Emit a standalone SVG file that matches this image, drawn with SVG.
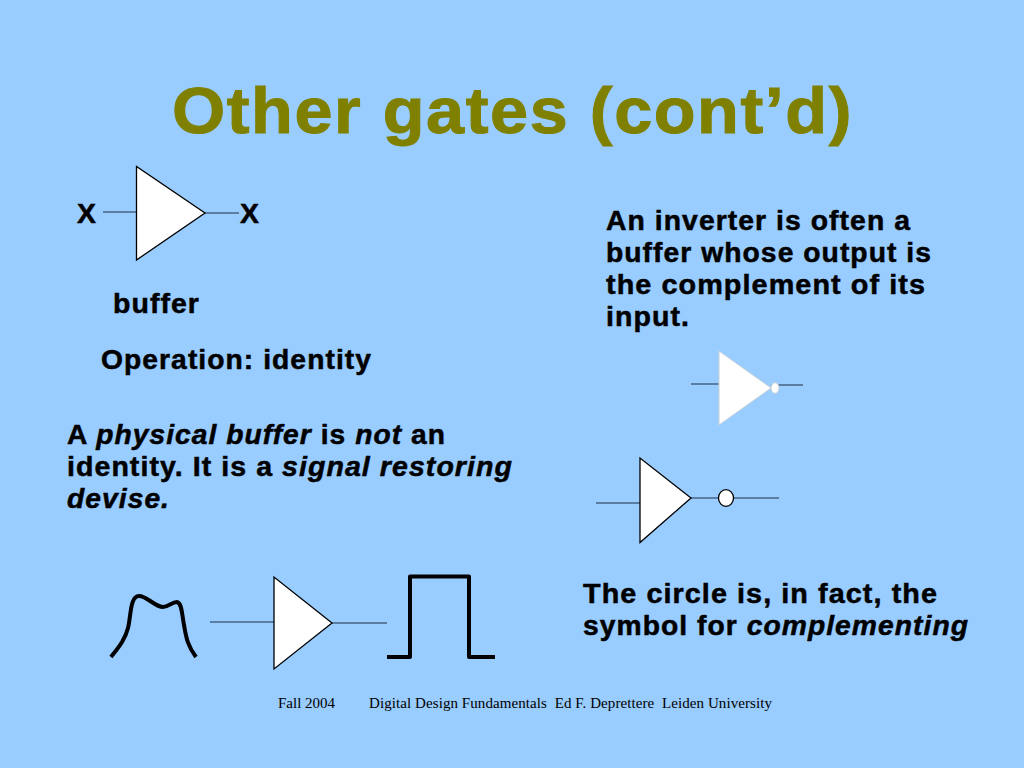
<svg xmlns="http://www.w3.org/2000/svg" width="1024" height="768" viewBox="0 0 1024 768">
<style>
text{font-family:"Liberation Sans",Arial,sans-serif;fill:#000}
.b{font-weight:bold;font-size:27px;stroke:#000;stroke-width:.5;letter-spacing:1px}
.t{font-weight:bold;font-size:65px;fill:#808000;stroke:#808000;stroke-width:1;letter-spacing:1.5px}
.f{font-family:"Liberation Serif","Times New Roman",serif;font-size:15px;white-space:pre}
.g{fill:#fff;stroke:#000;stroke-width:1.3}
.w{fill:none;stroke:#1e2f45;stroke-width:1.2}
.s{fill:none;stroke:#000;stroke-width:4;stroke-linejoin:round}
</style>
<rect width="1024" height="768" fill="#99ccff"/>
<text class="t" x="172" y="133" textLength="681" lengthAdjust="spacingAndGlyphs">Other gates (cont’d)</text>
<g id="connectors">
<path class="w" d="M103 212H137M205 213H239M691 384H719M771 385H803M596 503H640M691 498H719M733 498H779M210 622H274M332 623H387"/>
</g>
<g id="buffer"><path class="g" d="M136.500 166.500V260L205 213Z"/></g>
<g id="inverter1"><path d="M719 351V425L771 388Z" fill="#fff" stroke="#c8d0d8"/><ellipse cx="775" cy="388" rx="4" ry="5.300" fill="#fff" stroke="#c8d0d8"/></g>
<g id="inverter2"><path class="g" d="M640 458V542.500L691 498Z"/><ellipse cx="726" cy="498" rx="7.500" ry="8.300" class="g"/></g>
<g id="buffer2"><path class="g" stroke-width="1" d="M274 577V669L332 623Z"/></g>
<g id="input-wave"><path class="s" d="M111 657C118 648 125 640 128 628C131 616 130 596 139 596C147 596 155 607 163 607C168 607 172 602 177 602C182 603 182 615 184 625C186 636 187 645 196 657"/></g>
<g id="output-pulse"><path class="s" d="M387 657H410V576.500H469V657H495"/></g>
<g id="labels">
<text class="b" x="77" y="223" textLength="20" lengthAdjust="spacingAndGlyphs">X</text>
<text class="b" x="240" y="223" textLength="20" lengthAdjust="spacingAndGlyphs">X</text>
<text class="b" x="113" y="313" textLength="87" lengthAdjust="spacingAndGlyphs">buffer</text>
<text class="b" x="101" y="369" textLength="271" lengthAdjust="spacingAndGlyphs">Operation: identity</text>
<text class="b" x="606" y="230" textLength="305" lengthAdjust="spacingAndGlyphs">An inverter is often a</text>
<text class="b" x="606" y="262" textLength="326" lengthAdjust="spacingAndGlyphs">buffer whose output is</text>
<text class="b" x="606" y="294" textLength="320" lengthAdjust="spacingAndGlyphs">the complement of its</text>
<text class="b" x="606" y="326" textLength="84" lengthAdjust="spacingAndGlyphs">input.</text>
<text class="b" x="67" y="444" textLength="379" lengthAdjust="spacingAndGlyphs">A <tspan font-style="italic">physical buffer </tspan>is <tspan font-style="italic">not </tspan>an</text>
<text class="b" x="67" y="476" textLength="446" lengthAdjust="spacingAndGlyphs">identity. It is a <tspan font-style="italic">signal restoring</tspan></text>
<text class="b" x="67" y="508" font-style="italic" textLength="103" lengthAdjust="spacingAndGlyphs">devise.</text>
<text class="b" x="583" y="603" textLength="355" lengthAdjust="spacingAndGlyphs">The circle is, in fact, the</text>
<text class="b" x="583" y="635" textLength="386" lengthAdjust="spacingAndGlyphs">symbol for <tspan font-style="italic">complementing</tspan></text>
<text class="f" x="278" y="708">Fall 2004</text>
<text class="f" x="369" y="708" textLength="403">Digital Design Fundamentals  Ed F. Deprettere  Leiden University</text>
</g>
</svg>
